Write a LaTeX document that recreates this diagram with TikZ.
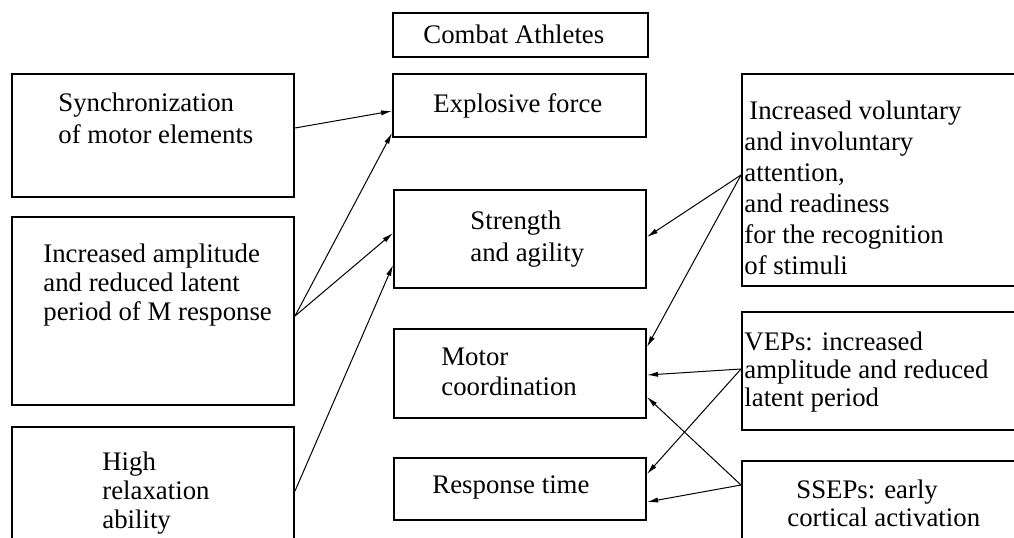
\documentclass[tikz,border=0pt]{standalone}
\usepackage{fontspec}
\setmainfont{Liberation Serif}
\usetikzlibrary{arrows.meta,fit}

\begin{document}
\begin{tikzpicture}[x=0.5pt,y=-0.5pt,
    box/.style={draw, line width=1pt, inner sep=0pt},
    txt/.style={inner sep=0pt, align=left, anchor=base west, font=\fontsize{13.4}{16}\selectfont},
    link/.style={-{Latex[length=5.5pt,width=2.6pt]}, line width=0.5pt}]
  \useasboundingbox (0,0) rectangle (1014,537);
  \clip (0,0) rectangle (1014,537);
  \node[box, fit={(393,13) (648,57)}] (title) {};
  \node[box, fit={(393,74) (646,137)}] (expl) {};
  \node[box, fit={(394,190) (646,288)}] (stren) {};
  \node[box, fit={(394,329) (646,418)}] (motor) {};
  \node[box, fit={(394,458) (646,520)}] (resp) {};
  \node[box, fit={(12,74) (294,197)}] (sync) {};
  \node[box, fit={(12,217) (294,405)}] (ampl) {};
  \node[box, fit={(12,427) (294,560)}] (relax) {};
  \node[box, fit={(742,74) (1040,286)}] (attn) {};
  \node[box, fit={(742,312) (1040,430)}] (veps) {};
  \node[box, fit={(742,461) (1040,560)}] (sseps) {};
  \node[txt] (tTitle) at (423,43) {Combat Athletes};
  \node[txt] (tExpl) at (433,112) {Explosive force};
  \node[txt] (tStren) at (470,261) {Strength\\and agility};
  \node[txt, font=\fontsize{13.4}{15}\selectfont] (tMotor) at (441,395) {Motor\\coordination};
  \node[txt] (tResp) at (432,493) {Response time};
  \node[txt] (tSync) at (58,143) {Synchronization\\of motor elements};
  \node[txt, font=\fontsize{13.4}{14.5}\selectfont] (tAmpl) at (43,320) {Increased amplitude\\and reduced latent\\period of M response};
  \node[txt, font=\fontsize{13.4}{14.5}\selectfont] (tRelax) at (102,528) {High\\relaxation\\ability};
  \node[txt, font=\fontsize{13.4}{15.5}\selectfont] (tAttn) at (744,274) {\hspace*{2.5pt}Increased voluntary\\and involuntary\\attention,\\and readiness\\for the recognition\\of stimuli};
  \node[txt, font=\fontsize{13.4}{14}\selectfont] (tVeps) at (744,406) {VEPs: increased\\amplitude and reduced\\latent period};
  \node[txt, font=\fontsize{13.4}{14}\selectfont] (tSseps) at (787,526) {\hspace*{4.5pt}SSEPs: early\\cortical activation};
  \draw[link] ([yshift=3.75pt]sync.east) -- ([yshift=-2.75pt]expl.west);
  \draw[link] ([yshift=-2.5pt]ampl.east) -- ([yshift=2.5pt]expl.south west);
  \draw[link] ([yshift=-2.5pt]ampl.east) -- ([yshift=3pt]stren.west);
  \draw[link] ([yshift=1.25pt]relax.east) -- ([yshift=-13pt]stren.west);
  \draw[link] ([yshift=2.5pt]attn.west) -- ([yshift=1pt]stren.east);
  \draw[link] ([yshift=2.5pt]attn.west) -- ([yshift=13.25pt]motor.east);
  \draw[link] ([yshift=1pt]veps.west) -- ([yshift=-0.75pt]motor.east);
  \draw[link] ([yshift=1pt]veps.west) -- ([yshift=7.5pt]resp.east);
  \draw[link] ([yshift=12.75pt]sseps.west) -- ([yshift=-11.75pt]motor.east);
  \draw[link] ([yshift=12.75pt]sseps.west) -- ([yshift=-6.5pt]resp.east);
\end{tikzpicture}
\end{document}
